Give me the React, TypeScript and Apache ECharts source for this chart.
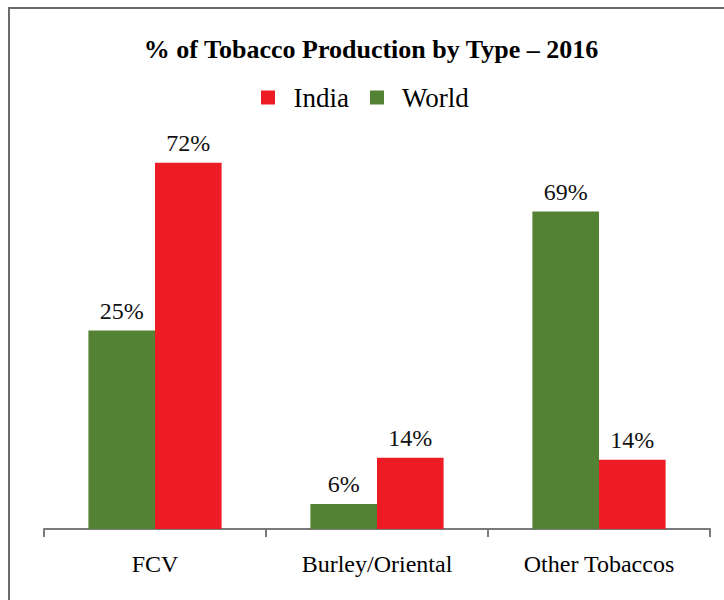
import React, { useEffect, useRef } from "react";
import * as echarts from "echarts";

const categories = ["FCV", "Burley/Oriental", "Other Tobaccos"];
// bar heights as drawn in the reference (percent scale)
const worldHeights = [39, 4.9, 62.4];
const indiaHeights = [72, 14, 13.6];
// value labels as printed in the reference
const worldLabels = ["25%", "6%", "69%"];
const indiaLabels = ["72%", "14%", "14%"];

const GREEN = "#548235";
const RED = "#ED1C24";
const FONT = "Liberation Serif";

export default function App() {
  const ref = useRef<HTMLDivElement>(null);
  useEffect(() => {
    if (!ref.current) return;
    const chart = echarts.init(ref.current, undefined, { renderer: "svg" });
    chart.setOption({
      animation: false,
      backgroundColor: "transparent",
      textStyle: { fontFamily: FONT },
      title: {
        text: "% of Tobacco Production by Type \u2013 2016",
        left: 366,
        top: 31,
        textAlign: "center",
        textStyle: { fontFamily: FONT, fontWeight: "bold", fontSize: 26, color: "#000" },
      },
      legend: {
        data: ["India", "World"],
        left: 256,
        top: 79,
        itemWidth: 14,
        itemHeight: 14,
        itemGap: 21,
        icon: "rect",
        formatter: (name: string) => "  " + name,
        textStyle: { fontFamily: FONT, fontSize: 27, color: "#000" },
      },
      grid: { left: 44, right: 14, top: 122, bottom: 71, containLabel: false },
      xAxis: {
        type: "category",
        data: categories,
        axisLine: { lineStyle: { color: "#7a7a7a", width: 2 } },
        axisTick: { show: true, length: 8, lineStyle: { color: "#7a7a7a", width: 2 } },
        axisLabel: { fontFamily: FONT, fontSize: 24, color: "#000", margin: 23 },
      },
      yAxis: {
        type: "value",
        min: 0,
        max: 80,
        show: false,
        splitLine: { show: false },
      },
      series: [
        {
          name: "World",
          type: "bar",
          data: worldHeights,
          itemStyle: { color: GREEN },
          barGap: "0%",
          barCategoryGap: "40%",
          label: {
            show: true,
            position: "top",
            distance: 8,
            formatter: (p: any) => worldLabels[p.dataIndex],
            fontFamily: FONT,
            fontSize: 24,
            color: "#111",
          },
        },
        {
          name: "India",
          type: "bar",
          data: indiaHeights,
          itemStyle: { color: RED },
          barGap: "0%",
          barCategoryGap: "40%",
          label: {
            show: true,
            position: "top",
            distance: 8,
            formatter: (p: any) => indiaLabels[p.dataIndex],
            fontFamily: FONT,
            fontSize: 24,
            color: "#111",
          },
        },
      ],
    });
    return () => chart.dispose();
  }, []);
  return (
    <div style={{ position: "fixed", left: 0, top: 0, width: 724, height: 600, background: "#fff", overflow: "hidden" }}>
      <div
        style={{
          position: "absolute",
          left: 8,
          top: 7,
          width: 716,
          height: 593,
          borderLeft: "2px solid #6b6b6b",
          borderTop: "2px solid #6b6b6b",
          boxSizing: "border-box",
        }}
      />
      <div ref={ref} style={{ position: "absolute", left: 0, top: 0, width: 724, height: 600 }} />
    </div>
  );
}
